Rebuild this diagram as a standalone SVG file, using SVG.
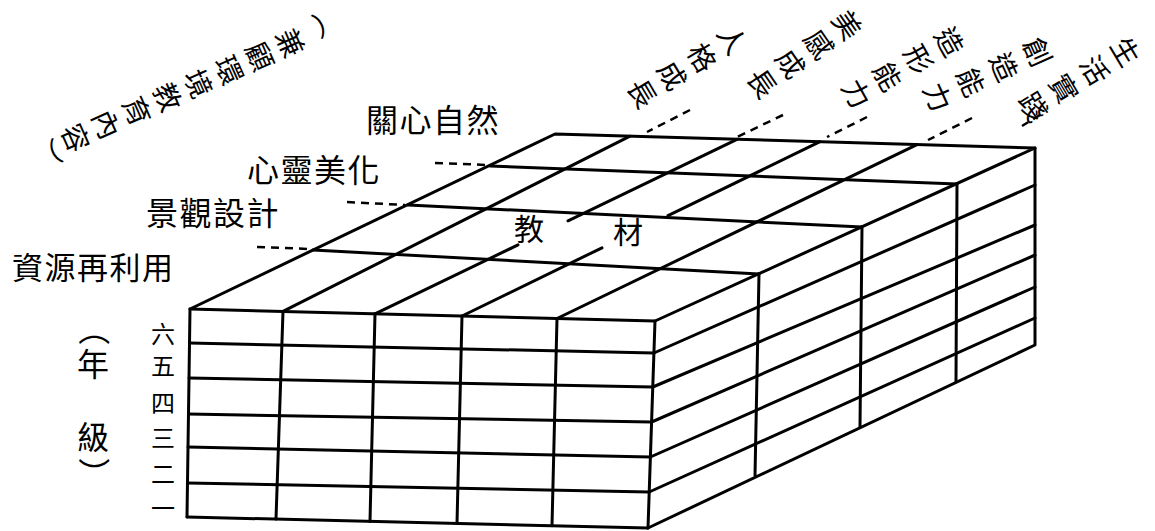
<svg xmlns="http://www.w3.org/2000/svg" width="1155" height="531" viewBox="0 0 1155 531">
<style>
.l{stroke:#000;stroke-width:3;fill:none;stroke-linecap:round;stroke-linejoin:round}
.d{stroke:#000;stroke-width:2.5;fill:none;stroke-dasharray:8 6}
.t{font-family:"Noto Sans CJK TC","Noto Sans CJK SC",sans-serif;fill:#000}
</style>
<rect width="1155" height="531" fill="#fff"/>
<g id="top-face">
<path class="l" d="M190,309 L555,134 L1035,148 M655,321 L1035,148 M190,309 L655,321"/>
<path class="l" d="M313,250 L759,274 M408,205 L862,227 M490,166 L957,184"/>
<path class="l" d="M283,311.4 L630,136.2 M375,313.8 L518,244.9 M568,220.8 L737,139.3 M462,316 L602,247.8 M668,215.7 L820,141.7 M557,318.5 L917,144.6"/>
</g>
<g id="front-face">
<path class="l" d="M189.5,343 L653.9,353 M189,378 L652.8,387 M188.4,414 L651.6,422 M188,447 L650.4,457 M187.5,483 L649.2,492 M187,517 L648,528"/>
<path class="l" d="M190,309 L187,517 M283,311.4 L276,519.1 M375,313.8 L370,521.4 M462,316 L457,523.4 M557,318.5 L552,525.7 M655,321 L648,528"/>
</g>
<g id="right-face">
<path class="l" d="M648,528 L1035,345 L1035,148"/>
<path class="l" d="M653.9,353 L1035,185 M652.8,387 L1035,225 M651.6,422 L1035,255 M650.4,457 L1035,287 M649.2,492 L1035,318"/>
<path class="l" d="M759,273.7 L755,475.5 M862,226.8 L860,426.8 M957,183.5 L956,381.9"/>
</g>
<g id="connectors">
<path class="d" d="M435,163 L488,165"/>
<path class="d" d="M347,202 L405,205"/>
<path class="d" d="M257,247 L310,249"/>
<path class="d" d="M690,110 L647,132"/>
<path class="d" d="M783,115 L737,137"/>
<path class="d" d="M867,117 L827,137"/>
<path class="d" d="M972,118 L928,140"/>
<path class="d" d="M1040,115 L1022,126"/>
</g>
<g id="row-labels" class="t">
<text id="label-guanxin" x="366" y="132" font-size="32" letter-spacing="1.5">關心自然</text>
<text id="label-xinling" x="247" y="182" font-size="32" letter-spacing="1.5">心靈美化</text>
<text id="label-jingguan" x="146" y="225" font-size="32" letter-spacing="1.5">景觀設計</text>
<text id="label-ziyuan" x="12" y="279" font-size="31" letter-spacing="1.5">資源再利用</text>
</g>
<g id="column-labels" class="t" font-size="28">
<text id="label-renge" x="715.9 685.9 655.9 625.9" y="33.1 50.9 68.7 86.5" rotate="59.3 59.3 59.3 59.3">人格成長</text>
<text id="label-meigan" x="830.5 802.2 773.9 745.6" y="19.2 38.6 58.0 77.4" rotate="55.5 55.5 55.5 55.5">美感成長</text>
<text id="label-zaoxing" x="933.4 902.4 871.4 840.4" y="34.7 52.0 69.3 86.6" rotate="60.8 60.8 60.8 60.8">造形能力</text>
<text id="label-chuangzao" x="1022.1 988.8 955.5 922.2" y="43.4 58.4 73.4 88.4" rotate="65.8 65.8 65.8 65.8">創造能力</text>
<text id="label-shenghuo" x="1109.2 1078.5 1047.8 1017.2" y="45.1 63.4 81.7 100.1" rotate="59.2 59.2 59.2 59.2">生活實踐</text>
</g>
<g id="title-label" class="t" font-size="28">
<text x="335.9 275.1 244.4 213.7 183.0 152.3 121.6 90.9 60.2 55.6" y="6.8 34.3 47.9 61.4 75.0 88.6 102.2 115.7 129.3 139.4" rotate="156.1 66.1 66.1 66.1 66.1 66.1 66.1 66.1 66.1 156.1">（兼顧環境教育內容）</text>
</g>
<g id="material-label" class="t" font-size="30" text-anchor="middle">
<text x="529" y="240">教</text>
<text x="628" y="243">材</text>
</g>
<g id="grade-labels" class="t" font-size="24" text-anchor="middle">
<text x="163" y="343">六</text>
<text x="163" y="375">五</text>
<text x="163" y="412">四</text>
<text x="163" y="447">三</text>
<text x="163" y="483">二</text>
<text x="163" y="517">一</text>
</g>
<g id="grade-title" class="t" font-size="32">
<text x="81.5 77 77 81.5" y="313.6 375.5 448.5 457.4" rotate="90 0 0 90">（年級）</text>
</g>
</svg>
